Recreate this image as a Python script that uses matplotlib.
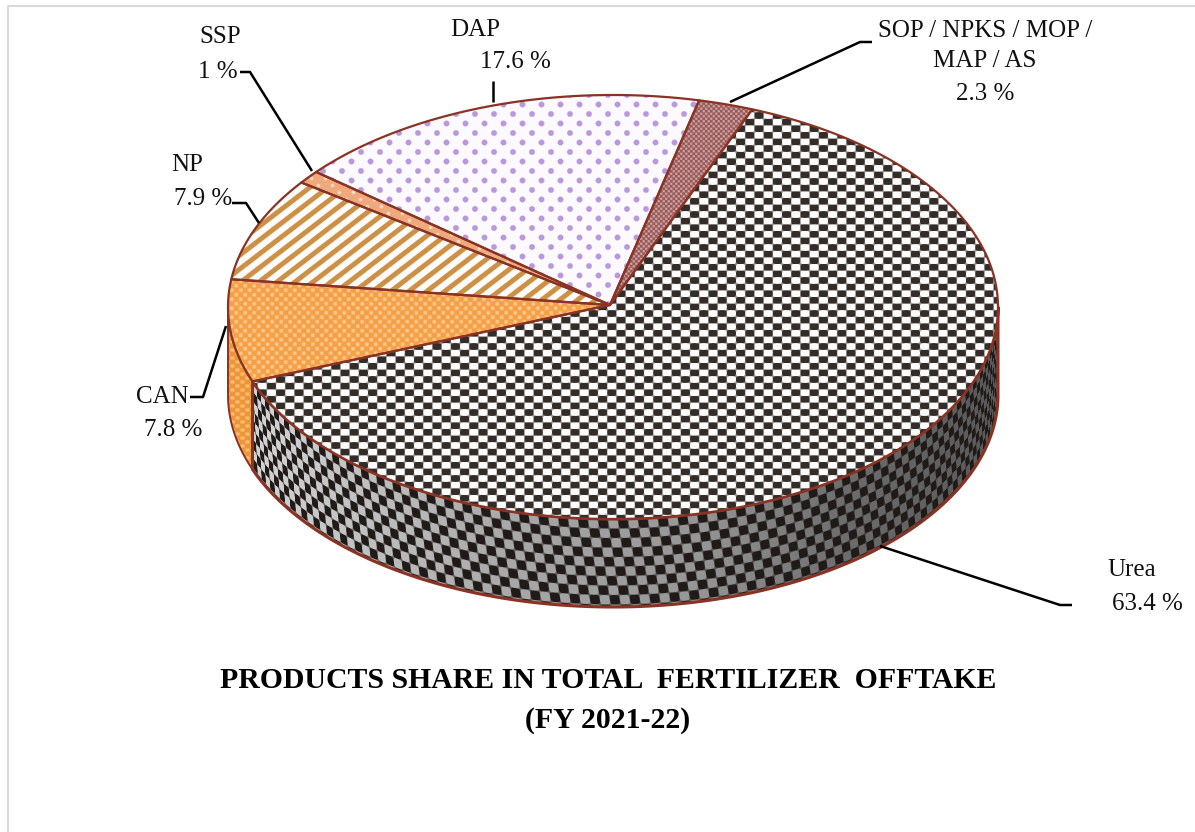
#!/usr/bin/env python3
import numpy as np
import matplotlib
matplotlib.use("Agg")
import matplotlib.pyplot as plt
from matplotlib.patches import Polygon

categories = ["Urea", "CAN", "NP", "SSP", "DAP", "SOP / NPKS / MOP /\nMAP / AS"]
shares = [63.4, 7.8, 7.9, 1, 17.6, 2.3]
title_lines = ["PRODUCTS SHARE IN TOTAL  FERTILIZER  OFFTAKE", "(FY 2021-22)"]

W, H = 1195, 832
plt.rcParams["font.family"] = ["Liberation Serif", "DejaVu Serif"]

fig = plt.figure(figsize=(W / 100, H / 100), dpi=100)
ax = fig.add_axes([0, 0, 1, 1])
ax.set_axis_off()

# pie geometry in figure pixels
cx, cy, rx, ry, depth = 613, 307, 385, 212, 88
start = 68.8  # where Urea begins, degrees, going clockwise
edge = "#8a3324"

Y, X = np.mgrid[0:H, 0:W] + 0.5


def mix(a, b, t):
    a, b = np.array(a) / 255, np.array(b) / 255
    return a + (b - a) * t[..., None]


def soft(s, k=3):
    return np.clip(0.5 + s * k, 0, 1)


def tex_urea():
    return mix((52, 44, 40), (252, 252, 252), soft(np.sin(np.pi * X / 9.2) * np.sin(np.pi * Y / 6.6)))


def tex_can():
    t = soft(np.sin(2 * np.pi * X / 9) * np.sin(2 * np.pi * Y / 9) + 0.3, 1.2)
    return mix((252, 200, 140), (245, 160, 70), t)


def tex_np():
    return mix((205, 145, 70), (253, 252, 250), soft(np.sin(2 * np.pi * (X + 1.3 * Y) / 18) + 0.15, 1.6))


def tex_ssp():
    t = soft(np.sin(2 * np.pi * X / 14) * np.sin(2 * np.pi * Y / 14) + 0.75, 2)
    return mix((250, 225, 205), (240, 168, 125), t)


def tex_dap():
    d1 = np.hypot((X % 19) - 9.5, (Y % 19) - 9.5)
    d2 = np.hypot(((X + 9.5) % 19) - 9.5, ((Y + 9.5) % 19) - 9.5)
    return mix((186, 152, 220), (252, 250, 254), soft(np.minimum(d1, d2) - 2.9, 0.8))


def tex_sop():
    t = soft(np.sin(2 * np.pi * X / 5) * np.sin(2 * np.pi * Y / 5) + 0.2, 1)
    return mix((205, 165, 165), (155, 90, 90), t)


def tex_wall():
    c = np.clip((X - cx) / rx, -1, 1)
    t = np.arccos(c)
    v = Y - (cy + ry * np.sin(t))
    u = rx * t + 0.15 * v
    s = soft(np.sin(np.pi * u / 10) * np.sin(np.pi * v / 9.5))
    light = np.interp(X, [250, 500, 700, 850, 1000], [212, 170, 150, 108, 88]) / 255
    dark = np.array((32, 27, 24)) / 255
    return dark + (light[..., None] - dark) * s[..., None]


textures = [tex_urea(), tex_can(), tex_np(), tex_ssp(), tex_dap(), tex_sop()]


def arc(a0, a1, dy=0):
    a = np.radians(np.linspace(a0, a1, 200))
    return np.column_stack([cx + rx * np.cos(a), cy + dy - ry * np.sin(a)])


def paint(tex, pts, z, lw=1.6):
    poly = Polygon(pts, closed=True, fc="none", ec=edge, lw=lw, zorder=z + 1, joinstyle="round")
    ax.add_patch(poly)
    im = ax.imshow(tex, extent=(0, W, H, 0), origin="upper", interpolation="nearest", aspect="auto", zorder=z)
    im.set_clip_path(poly)


# boundaries of the slices, clockwise from the start angle
angles = start - np.concatenate([[0], np.cumsum(shares)]) * 3.6

# side wall: only the front half of the cylinder shows
wall_tex = tex_wall()
wall_can = mix((250, 190, 120), (238, 150, 55), soft(np.sin(2 * np.pi * X / 10) * np.sin(2 * np.pi * Y / 8) + 0.3, 1.2))
paint(wall_tex, np.vstack([arc(angles[1], 0), arc(0, angles[1], depth)]), 2, lw=2.2)
paint(wall_can, np.vstack([arc(-180, angles[1]), arc(angles[1], -180, depth)]), 2, lw=1.4)

# top of the pie
for i, tex in enumerate(textures):
    pts = np.vstack([[cx - 3, cy - 2], arc(angles[i], angles[i + 1])])
    paint(tex, pts, 4)

# leader lines
leaders = [
    [(880, 546), (1060, 605), (1072, 605)],
    [(190, 397), (203, 397), (226, 326)],
    [(232, 203), (246, 203), (259, 223)],
    [(240, 72), (250, 72), (312, 171)],
    [(493, 81), (493, 102)],
    [(730, 102), (860, 42), (872, 42)],
]
for line in leaders:
    xs, ys = zip(*line)
    ax.plot(xs, ys, color="black", lw=1.8, zorder=8, solid_capstyle="butt")

name_pos = [(1132, 570), (162, 397), (187, 165), (220, 37), (475, 30), (985, 46)]
value_pos = [(1147, 604), (173, 430), (203, 199), (218, 72), (515, 62), (985, 94)]
for name, share, p, q in zip(categories, shares, name_pos, value_pos):
    ax.text(p[0], p[1], name, ha="center", va="center", fontsize=18, color="#111111", linespacing=1.5, zorder=9)
    ax.text(q[0], q[1], f"{share:g} %", ha="center", va="center", fontsize=18, color="#111111", zorder=9)

ax.text(608, 680, title_lines[0], ha="center", va="center", fontsize=21.4, fontweight="bold", color="black")
ax.text(608, 721, title_lines[1], ha="center", va="center", fontsize=21.4, fontweight="bold", color="black")

# light frame of the chart area: top and left only show
ax.plot([8, 8, W], [H, 6, 6], color="#d9d9d9", lw=1.5, zorder=1)

ax.set_xlim(0, W)
ax.set_ylim(H, 0)
fig.savefig("out.png", dpi=100)
